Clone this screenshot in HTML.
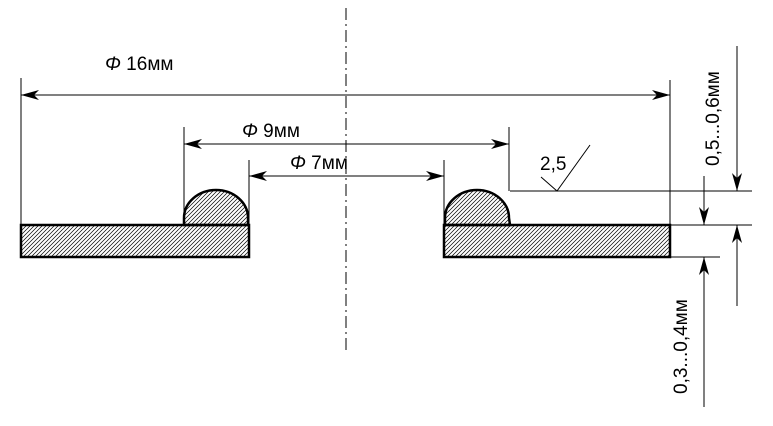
<!DOCTYPE html>
<html><head><meta charset="utf-8"><style>body{margin:0;background:#fff}svg{display:block}</style></head><body>
<svg width="773" height="426" viewBox="0 0 773 426" xmlns="http://www.w3.org/2000/svg" font-family="Liberation Sans, sans-serif">
<defs>
<pattern id="h" patternUnits="userSpaceOnUse" width="4" height="4"><path d="M-1,5 L5,-1 M-1,1 L1,-1 M3,5 L5,3" stroke="#000" stroke-width="0.7"/></pattern>
<marker id="a" viewBox="0 0 18 10" refX="18" refY="5" markerWidth="18" markerHeight="10" orient="auto" markerUnits="userSpaceOnUse"><path d="M0,0 L18,5 L0,10 L5,5z" fill="#000"/></marker>
</defs>
<g stroke="#000" stroke-width="1" fill="none">
<line x1="346" y1="8" x2="346" y2="354" stroke-dasharray="12,4,2,4"/>
<line x1="21" y1="78" x2="21" y2="225"/><line x1="670" y1="80" x2="670" y2="257"/>
<line x1="184" y1="127" x2="184" y2="225"/><line x1="509" y1="127" x2="509" y2="191"/>
<line x1="249" y1="160" x2="249" y2="225"/><line x1="444" y1="160" x2="444" y2="225"/>
<line x1="346" y1="95" x2="21" y2="95" marker-end="url(#a)"/><line x1="346" y1="95" x2="670" y2="95" marker-end="url(#a)"/>
<line x1="346" y1="144" x2="184" y2="144" marker-end="url(#a)"/><line x1="346" y1="144" x2="509" y2="144" marker-end="url(#a)"/>
<line x1="346" y1="176" x2="249" y2="176" marker-end="url(#a)"/><line x1="346" y1="176" x2="444" y2="176" marker-end="url(#a)"/>
<line x1="510" y1="191" x2="752" y2="191"/><line x1="670" y1="225" x2="752" y2="225"/><line x1="670" y1="257" x2="720" y2="257"/>
<line x1="704" y1="176" x2="704" y2="225" marker-end="url(#a)"/><line x1="704" y1="407" x2="704" y2="257" marker-end="url(#a)"/>
<line x1="737" y1="46" x2="737" y2="191" marker-end="url(#a)"/><line x1="737" y1="306" x2="737" y2="225" marker-end="url(#a)"/>
<polyline points="541,177 557,191 590,145"/>
</g>
<g stroke="#000" stroke-width="2.5" fill="url(#h)">
<rect x="21" y="225" width="228" height="32"/>
<rect x="444" y="225" width="226" height="32"/>
<path d="M184,225 L184,218 A32,28 0 0 1 248,218 L248,225 Z"/>
<path d="M445,225 L445,218 A32,28 0 0 1 509,218 L510,225 Z"/>
</g>
<g font-size="19" fill="#000">
<text x="105" y="70"><tspan font-style="italic">Φ</tspan> 16мм</text>
<text x="242" y="137"><tspan font-style="italic">Φ</tspan> 9мм</text>
<text x="290" y="169"><tspan font-style="italic">Φ</tspan> 7мм</text>
<text x="540" y="170">2,5</text>
<text transform="translate(719,166) rotate(-90)">0,5...0,6мм</text>
<text transform="translate(687,394) rotate(-90)">0,3...0,4мм</text>
</g>
</svg>
</body></html>
